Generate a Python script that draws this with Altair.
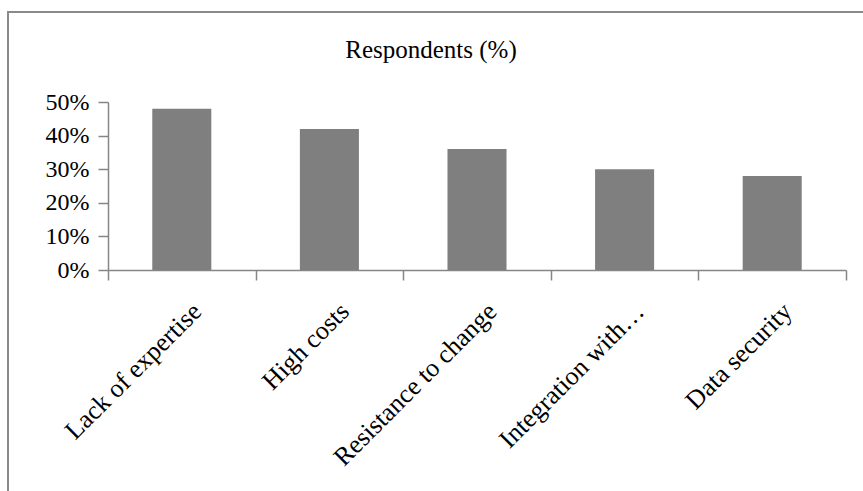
import altair as alt
import pandas as pd

categories = ["Lack of expertise", "High costs", "Resistance to change", "Integration with…", "Data security"]
respondents = [48, 42, 36, 30, 28]
y_ticks = [0, 10, 20, 30, 40, 50]
chart_title = "Respondents (%)"

df = pd.DataFrame({"category": categories, "value": respondents})

SERIF = "Liberation Serif"
AXIS_GRAY = "#868686"

bars = alt.Chart(df).mark_bar(color="#7f7f7f", width={"band": 0.4}).encode(
    x=alt.X(
        "category:N",
        sort=categories,
        title=None,
        scale=alt.Scale(paddingInner=0, paddingOuter=0),
        axis=alt.Axis(
            labelAngle=-45,
            labelAlign="right",
            labelBaseline="middle",
            labelOffset=15,
            labelPadding=27,
            labelFont=SERIF,
            labelFontSize=26,
            labelColor="black",
            tickBand="extent",
            tickSize=10,
            tickColor=AXIS_GRAY,
            domainColor=AXIS_GRAY,
            tickWidth=1.5,
            domainWidth=1.5,
            grid=False,
            labelLimit=400,
        ),
    ),
    y=alt.Y(
        "value:Q",
        title=None,
        scale=alt.Scale(domain=[0, 50], nice=False),
        axis=alt.Axis(
            values=y_ticks,
            labelExpr="datum.value + '%'",
            labelFont=SERIF,
            labelFontSize=24,
            labelColor="black",
            labelPadding=9,
            tickSize=10,
            tickColor=AXIS_GRAY,
            domainColor=AXIS_GRAY,
            tickWidth=1.5,
            domainWidth=1.5,
            grid=False,
        ),
    ),
)

frame = alt.Chart(pd.DataFrame({"f": [0]})).mark_rect(
    fill=None, stroke="#8a8a8a", strokeWidth=2
).encode(
    x=alt.value(-100), x2=alt.value(900), y=alt.value(-90), y2=alt.value(500)
)

title_mark = alt.Chart(pd.DataFrame({"t": [chart_title]})).mark_text(
    font=SERIF, fontSize=25, color="black", align="center", baseline="alphabetic"
).encode(
    text="t:N", x=alt.value(323), y=alt.value(-44)
)

chart = alt.layer(frame, title_mark, bars).properties(
    width=738,
    height=168,
    autosize=alt.AutoSizeParams(type="none"),
    padding={"left": 108, "top": 102, "right": 17, "bottom": 221},
    background="white",
).configure_view(strokeWidth=0, stroke="transparent")

chart.save("out.html", embed_options={"renderer": "svg", "actions": False})
